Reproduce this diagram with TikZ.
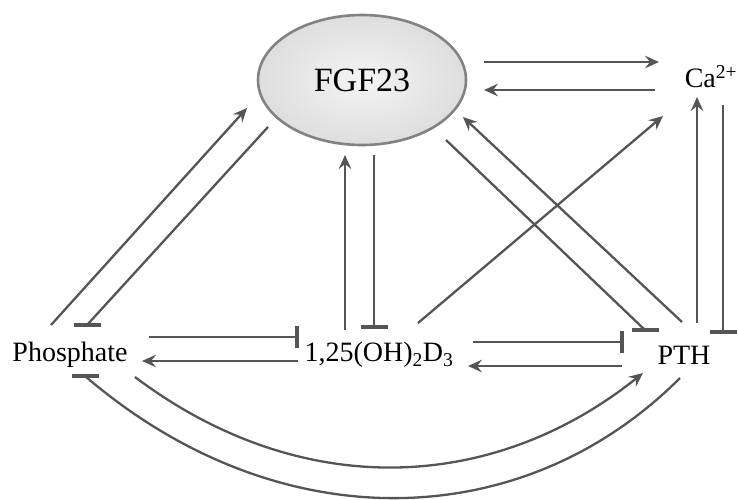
\documentclass[tikz,border=0pt]{standalone}
\usepackage{fontspec}
\setmainfont{Liberation Serif}
\usetikzlibrary{arrows.meta,shapes.geometric,calc}

\definecolor{linegray}{RGB}{85,85,85}
\definecolor{rimgray}{RGB}{130,130,130}

\tikzset{
  lbl/.style={inner sep=0pt, font=\fontsize{28}{31}\selectfont},
  activ/.style={draw=linegray, line width=2.3pt,
    -{Stealth[length=14pt,width=12.5pt,inset=5pt]}},
  inhib/.style={draw=linegray, line width=2.3pt},
  barline/.style={draw=linegray, line width=3.2pt},
}
% horizontal and vertical blunt ends of inhibitory links
\newcommand\inhbarH[1]{\draw[barline] ([xshift=-13.5pt]#1) -- ([xshift=13.5pt]#1);}
\newcommand\inhbarV[1]{\draw[barline] ([yshift=-11pt]#1) -- ([yshift=11pt]#1);}

\begin{document}
\begin{tikzpicture}[x=1pt,y=-1pt]
\useasboundingbox (0,0) rectangle (738,499);

% ---- nodes ----
\node[ellipse, minimum width=208pt, minimum height=130pt, inner sep=0pt,
      shading=radial, inner color={rgb,255:red,244;green,244;blue,244},
      outer color={rgb,255:red,222;green,222;blue,222},
      draw=rimgray, line width=2.6pt,
      font=\fontsize{34}{37}\selectfont] (fgf) at (362,80) {FGF23};
\node[lbl] (ca)  at (711,77)  {Ca\textsuperscript{2+}};
\node[lbl] (pho) at (70,355)  {Phosphate};
\node[lbl] (vd)  at (379,355) {1,25(OH)\textsubscript{2}D\textsubscript{3}};
\node[lbl] (pth) at (684,355) {PTH};

% ---- end points of the links ----
\coordinate (fc1) at (484,62);  \coordinate (fc2) at (659,62);
\coordinate (cf1) at (655,90);  \coordinate (cf2) at (484,90);
\coordinate (pc1) at (697,323); \coordinate (pc2) at (697,97);
\coordinate (cp1) at (723,105); \coordinate (cp2) at (723,332);
\coordinate (hf1) at (51,325);  \coordinate (hf2) at (247,108);
\coordinate (fh1) at (268,127); \coordinate (fh2) at (87,325);
\coordinate (vf1) at (345,330); \coordinate (vf2) at (345,155);
\coordinate (fv1) at (374,155); \coordinate (fv2) at (374,327);
\coordinate (vc1) at (418,323); \coordinate (vc2) at (663,116);
\coordinate (tf1) at (682,322); \coordinate (tf2) at (463,117);
\coordinate (ft1) at (446,140); \coordinate (ft2) at (645,330);
\coordinate (hv1) at (149,337); \coordinate (hv2) at (297,337);
\coordinate (vh1) at (298,361); \coordinate (vh2) at (142,361);
\coordinate (vt1) at (473,342); \coordinate (vt2) at (622,342);
\coordinate (tv1) at (622,366); \coordinate (tv2) at (468,366);
\coordinate (ht1) at (135,377); \coordinate (ht2) at (643,373);
\coordinate (th1) at (680,378); \coordinate (th2) at (85,376);

% ---- FGF23 and calcium ----
\draw[activ] (fc1) -- (fc2);
\draw[activ] (cf1) -- (cf2);

% ---- PTH and calcium ----
\draw[activ] (pc1) -- (pc2);
\draw[inhib] (cp1) -- (cp2); \inhbarH{cp2}

% ---- phosphate and FGF23 ----
\draw[activ] (hf1) -- (hf2);
\draw[inhib] (fh1) -- (fh2); \inhbarH{fh2}

% ---- vitamin D and FGF23 ----
\draw[activ] (vf1) -- (vf2);
\draw[inhib] (fv1) -- (fv2); \inhbarH{fv2}

% ---- vitamin D to calcium ----
\draw[activ] (vc1) -- (vc2);

% ---- PTH and FGF23 ----
\draw[activ] (tf1) -- (tf2);
\draw[inhib] (ft1) -- (ft2); \inhbarH{ft2}

% ---- phosphate and vitamin D ----
\draw[inhib] (hv1) -- (hv2); \inhbarV{hv2}
\draw[activ] (vh1) -- (vh2);

% ---- vitamin D and PTH ----
\draw[inhib] (vt1) -- (vt2); \inhbarV{vt2}
\draw[activ] (tv1) -- (tv2);

% ---- phosphate and PTH, lower arcs ----
\draw[activ] (ht1) .. controls (301,502) and (493,493) .. (ht2);
\draw[inhib] (th1) .. controls (522,536) and (277,541) .. (th2); \inhbarH{th2}
\end{tikzpicture}
\end{document}
